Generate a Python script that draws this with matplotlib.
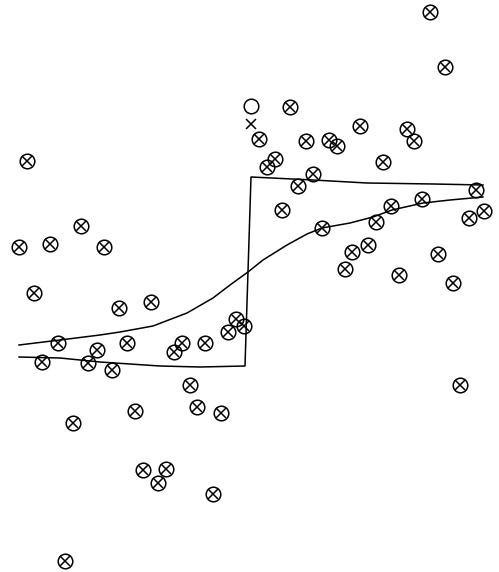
import matplotlib
matplotlib.use("Agg")
import matplotlib.pyplot as plt

# marker centres (x, y) in picture units (y downward)
pts_x = [430, 445, 290, 259, 306, 329, 337, 360, 407, 414, 383, 275, 267, 313, 298,
         282, 391, 422, 476, 322, 376, 469, 484, 368, 352, 345, 438, 399, 453, 460,
         27, 81, 19, 50, 104, 34, 119, 151,
         174, 182, 205, 228, 236, 244,
         58, 42, 97, 88, 112, 127,
         190, 135, 73, 197, 221, 143, 166, 158, 213, 65]
pts_y = [12, 67, 107, 139, 141, 140, 146, 126, 129, 141, 162, 159, 167, 174, 186,
         210, 206, 199, 190, 228, 222, 218, 211, 245, 252, 269, 254, 275, 283, 385,
         161, 226, 247, 244, 247, 293, 308, 302,
         352, 343, 343, 332, 319, 326,
         343, 362, 350, 363, 370, 343,
         385, 411, 423, 407, 413, 470, 469, 483, 494, 561]

# lone circle and lone cross
lone_circle = (251, 106)
lone_cross = (251, 124)

# step-like curve
step_x = [19, 60, 100, 130, 160, 200, 245, 251, 313, 367, 433, 483]
step_y = [357, 358, 362, 364, 366, 367, 366, 177, 180, 183, 184, 185]

# smooth sigmoid curve
sig_x = [19, 60, 100, 120, 153, 187, 213, 230, 248, 263, 287, 307, 322, 350, 373, 392, 423, 450, 483]
sig_y = [345, 340, 335, 332, 326, 313, 298, 285, 272, 260, 245, 234, 228, 223, 217, 210, 203, 200, 197]

fig = plt.figure(figsize=(4.99, 5.72), dpi=100)
ax = fig.add_axes([0, 0, 1, 1])
ax.set_xlim(0, 499)
ax.set_ylim(572, 0)
ax.axis("off")

ax.plot(step_x, step_y, color="black", lw=1.1)
ax.plot(sig_x, sig_y, color="black", lw=1.1)

ax.plot(pts_x, pts_y, linestyle="none", marker="o", ms=10.5, mfc="none",
        mec="black", mew=1.1)
ax.plot(pts_x, pts_y, linestyle="none", marker="x", ms=7.2, mec="black", mew=1.1)

ax.plot([lone_circle[0]], [lone_circle[1]], linestyle="none", marker="o", ms=10.5,
        mfc="none", mec="black", mew=1.1)
ax.plot([lone_cross[0]], [lone_cross[1]], linestyle="none", marker="x", ms=7.2,
        mec="black", mew=1.1)

fig.savefig("out.png", dpi=100)
